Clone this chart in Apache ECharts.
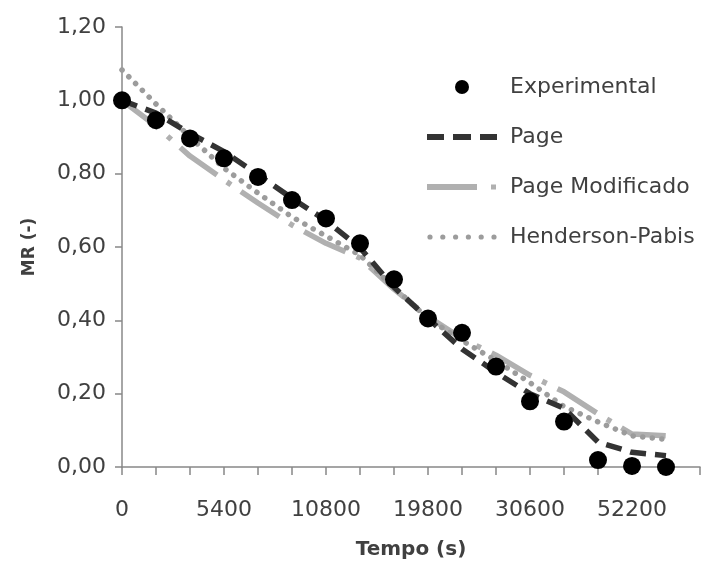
<!DOCTYPE html>
<html>
<head>
<meta charset="utf-8">
<script src="https://cdn.jsdelivr.net/npm/echarts@6/dist/echarts.min.js"></script>
<style>
  html, body { margin: 0; padding: 0; background: #fff; }
  #chart { width: 702px; height: 563px; }
</style>
</head>
<body>
<div id="chart"></div>
<script>
// Drying time (s); the axis keeps one trailing empty slot after the last reading
const tempo = ['0', '1800', '3600', '5400', '7200', '9000', '10800', '13800', '16800',
  '19800', '23400', '27000', '30600', '37800', '45000', '52200', '59400', ''];

// Moisture ratio, measured
const experimental = [1.00, 0.946, 0.896, 0.842, 0.791, 0.728, 0.678, 0.610, 0.512,
  0.405, 0.366, 0.274, 0.179, 0.124, 0.019, 0.003, 0.000];

// Model fits
const page = [1.00, 0.965, 0.910, 0.860, 0.797, 0.733, 0.672, 0.598, 0.490,
  0.405, 0.322, 0.258, 0.200, 0.160, 0.068, 0.040, 0.031];
const pageModificado = [1.00, 0.930, 0.848, 0.783, 0.720, 0.660, 0.610, 0.570, 0.485,
  0.410, 0.350, 0.305, 0.250, 0.205, 0.145, 0.090, 0.085];
const hendersonPabis = [1.083, 0.990, 0.900, 0.815, 0.747, 0.682, 0.630, 0.578, 0.490,
  0.405, 0.345, 0.290, 0.230, 0.165, 0.123, 0.085, 0.075];

const yTicks = { min: 0, max: 1.2, step: 0.2 };

const FONT = '"DejaVu Sans", sans-serif';
const TXT = '#404040';
const AXIS = '#888888';

// Legend glyphs (70 x 14 box; the two zero-area strokes only fix the box size)
const BOX = 'M0,0L70,0M0,14L70,14';
const ICON_PAGE = 'path://' + BOX + 'M0,4h17v6H0zM26,4h18v6H26zM53,4h17v6H53z';
const ICON_MOD = 'path://' + BOX + 'M0,4h50v6H0zM64,4.5h5v5h-5z';
function dots() {
  let p = BOX;
  for (let i = 0; i < 6; i++) {
    const cx = 3 + i * 12.8;
    p += 'M' + (cx - 2.6) + ',7a2.6,2.6 0 1,0 5.2,0a2.6,2.6 0 1,0 -5.2,0z';
  }
  return 'path://' + p;
}

const chart = echarts.init(document.getElementById('chart'), null, { renderer: 'canvas' });

chart.setOption({
  animation: false,
  backgroundColor: '#ffffff',
  textStyle: { fontFamily: FONT },
  grid: { left: 122, right: 2, top: 27, bottom: 96, containLabel: false, outerBoundsMode: 'none' },
  legend: {
    orient: 'vertical',
    left: 422,
    top: 70,
    itemWidth: 70,
    itemHeight: 14,
    itemGap: 26,
    itemStyle: { borderWidth: 0 },
    textStyle: { fontFamily: FONT, fontSize: 22, color: TXT, lineHeight: 24, padding: [0, 0, 0, 8] },
    data: [
      { name: 'Experimental', icon: 'circle' },
      { name: 'Page', icon: ICON_PAGE },
      { name: 'Page Modificado', icon: ICON_MOD },
      { name: 'Henderson-Pabis', icon: dots() }
    ]
  },
  xAxis: {
    type: 'category',
    data: tempo,
    boundaryGap: false,
    name: 'Tempo (s)',
    nameLocation: 'middle',
    nameGap: 73,
    nameTextStyle: { fontFamily: FONT, fontSize: 20, fontWeight: 'bold', color: TXT },
    axisLine: { lineStyle: { color: AXIS, width: 1.5 } },
    axisTick: { show: true, interval: 0, length: 8, lineStyle: { color: AXIS, width: 1.5 } },
    axisLabel: { interval: 2, margin: 32, fontFamily: FONT, fontSize: 22, color: TXT },
    splitLine: { show: false }
  },
  yAxis: {
    type: 'value',
    min: yTicks.min,
    max: yTicks.max,
    interval: yTicks.step,
    name: 'MR (-)',
    nameLocation: 'middle',
    nameRotate: 90,
    nameGap: 84,
    nameTextStyle: { fontFamily: FONT, fontSize: 17, fontWeight: 'bold', color: TXT },
    axisLine: { show: true, lineStyle: { color: AXIS, width: 1.5 } },
    axisTick: { show: true, length: 7, lineStyle: { color: AXIS, width: 1.5 } },
    axisLabel: {
      margin: 16, fontFamily: FONT, fontSize: 22, color: TXT,
      formatter: v => v.toFixed(2).replace('.', ',')
    },
    splitLine: { show: false }
  },
  series: [
    {
      name: 'Page',
      type: 'line',
      data: page,
      symbol: 'none',
      lineStyle: { color: '#333333', width: 5.5, type: [16, 9], cap: 'butt' },
      itemStyle: { color: '#333333', borderWidth: 0 },
      z: 3
    },
    {
      name: 'Page Modificado',
      type: 'line',
      data: pageModificado,
      symbol: 'none',
      lineStyle: { color: '#b0b0b0', width: 5.5, type: [46, 12, 5, 12], cap: 'butt' },
      itemStyle: { color: '#b0b0b0', borderWidth: 0 },
      z: 2
    },
    {
      name: 'Henderson-Pabis',
      type: 'line',
      data: hendersonPabis,
      symbol: 'none',
      lineStyle: { color: '#9c9c9c', width: 5.5, type: [0.1, 9.5], cap: 'round' },
      itemStyle: { color: '#9c9c9c', borderWidth: 0 },
      z: 2
    },
    {
      name: 'Experimental',
      type: 'scatter',
      data: experimental,
      symbol: 'circle',
      symbolSize: 18,
      itemStyle: { color: '#000000', opacity: 1 },
      z: 4
    }
  ]
});
</script>
</body>
</html>
